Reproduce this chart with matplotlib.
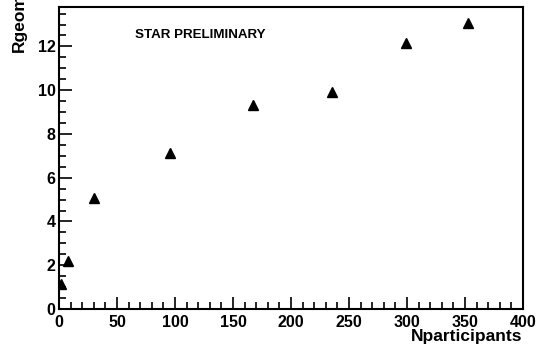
import matplotlib
import matplotlib.pyplot as plt
from matplotlib.ticker import MultipleLocator

matplotlib.rcParams["font.family"] = ["Liberation Sans", "DejaVu Sans"]
matplotlib.rcParams["font.weight"] = "bold"

# Rgeom vs number of participants
npart = [2, 8, 30, 96, 167, 235, 299, 353]
rgeom = [1.14, 2.2, 5.08, 7.14, 9.3, 9.92, 12.16, 13.05]

x_ticks = [0, 50, 100, 150, 200, 250, 300, 350, 400]
y_ticks = [0, 2, 4, 6, 8, 10, 12]


def main():
    fig = plt.figure(figsize=(5.42, 3.52), dpi=100)
    ax = fig.add_axes([59 / 542, 43 / 352, 464 / 542, 302 / 352])

    ax.plot(npart, rgeom, linestyle="none", marker="^", color="black",
            markersize=7.5)

    ax.set_xlim(0, 400)
    ax.set_ylim(0, 13.8)
    ax.set_xticks(x_ticks)
    ax.set_yticks(y_ticks)
    ax.xaxis.set_minor_locator(MultipleLocator(10))
    ax.yaxis.set_minor_locator(MultipleLocator(0.5))

    ax.tick_params(which="both", direction="in", top=False, right=False,
                   labelsize=11.5, width=1.2, color="black")
    ax.tick_params(which="major", length=9)
    ax.tick_params(which="minor", length=5)
    ax.tick_params(axis="x", pad=4)
    ax.tick_params(axis="y", pad=2.5)
    for s in ax.spines.values():
        s.set_linewidth(1.5)
    for lab in ax.get_xticklabels() + ax.get_yticklabels():
        lab.set_fontweight("bold")

    ax.text((135 - 59) / 464, (309 - 35) / 302, "STAR PRELIMINARY",
            transform=ax.transAxes, fontsize=9.6, fontweight="bold",
            va="center", ha="left")

    fig.text(522 / 542, 1 - 329 / 352, "Nparticipants", fontsize=12.5,
             fontweight="bold", ha="right", va="top")
    fig.text(19 / 542, 1 - 52 / 352, "Rgeom", fontsize=12.5,
             fontweight="bold", rotation=90, ha="center", va="bottom")

    fig.savefig("out.png", dpi=100)


if __name__ == "__main__":
    main()
